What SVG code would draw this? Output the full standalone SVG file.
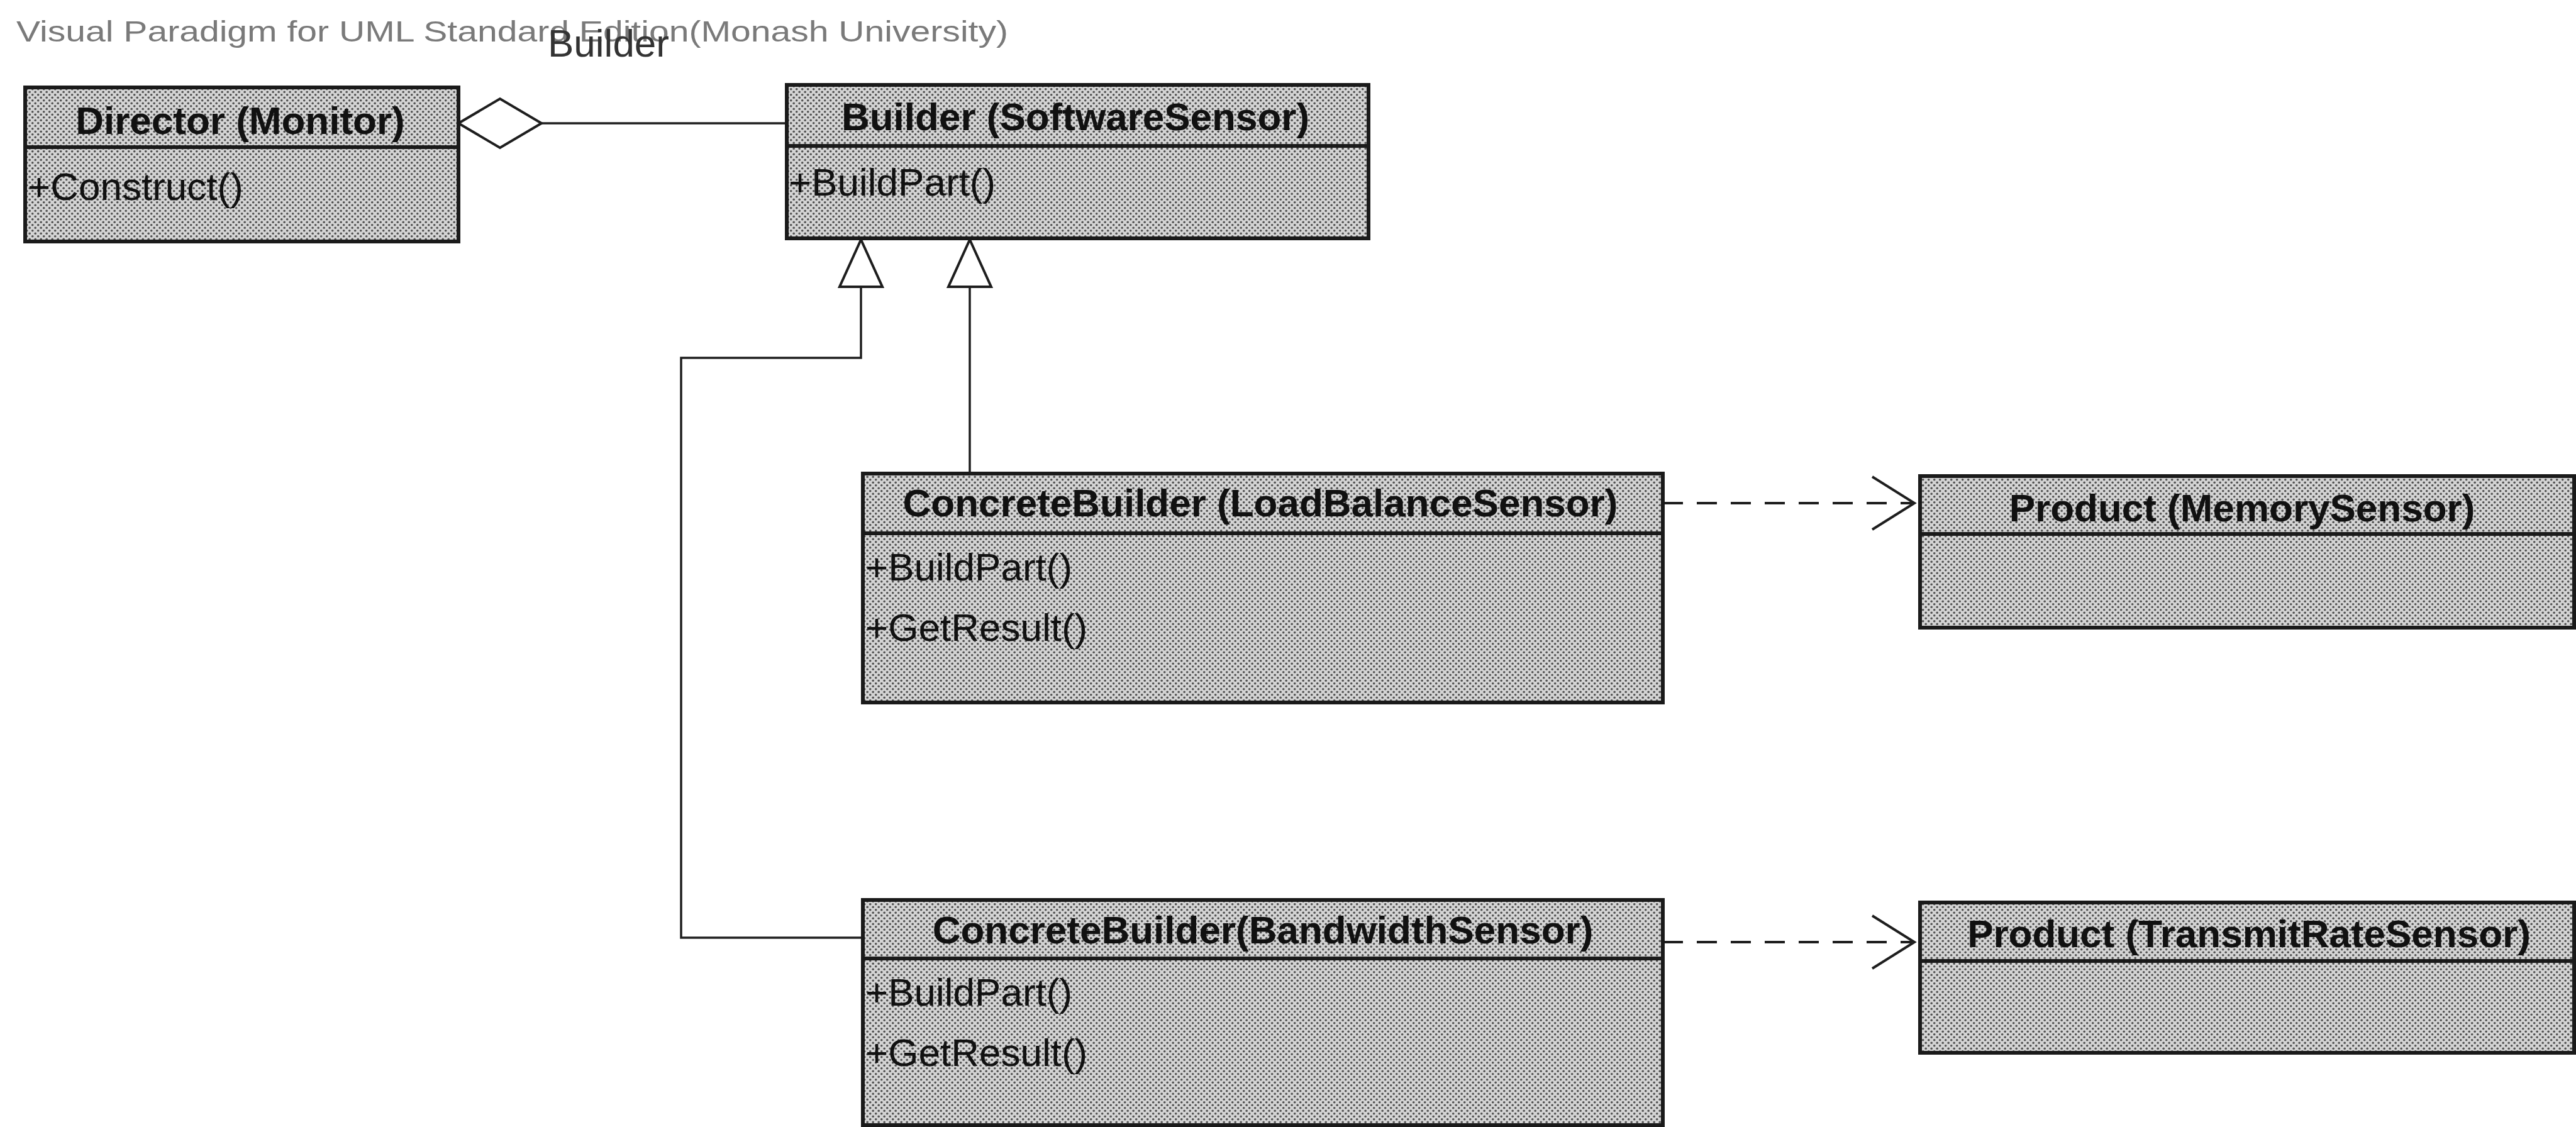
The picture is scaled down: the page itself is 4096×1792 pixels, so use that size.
<svg xmlns="http://www.w3.org/2000/svg" width="4096" height="1792" viewBox="0 0 4096 1792">
<style>
.box{fill:url(#dither);stroke:#1a1a1a;stroke-width:6}
.sep{stroke:#1a1a1a;stroke-width:6}
.hdr{font-family:"Liberation Sans",Arial,sans-serif;font-weight:bold;font-size:62px;fill:#111;text-anchor:middle}
.op{font-family:"Liberation Sans",Arial,sans-serif;font-size:62px;fill:#111}
.ln{fill:none;stroke:#1e1e1e;stroke-width:3.5}
.dash{fill:none;stroke:#1e1e1e;stroke-width:4;stroke-dasharray:32 22}
.tri{fill:#fff;stroke:#1e1e1e;stroke-width:4;stroke-linejoin:miter}
</style>
<defs>
<pattern id="dither" width="9" height="9" patternUnits="userSpaceOnUse">
<rect width="9" height="9" fill="#d4d4d4"/>
<circle cx="2.2" cy="2.2" r="1.8" fill="#505050"/>
<circle cx="6.7" cy="6.7" r="1.8" fill="#505050"/>
</pattern>
</defs>
<rect width="4096" height="1792" fill="#fff"/>
<text x="26" y="66" font-family="Liberation Sans,Arial,sans-serif" font-size="47" fill="#7a7a7a" textLength="1577" lengthAdjust="spacingAndGlyphs">Visual Paradigm for UML Standard Edition(Monash University)</text>
<text x="871" y="90" font-family="Liberation Sans,Arial,sans-serif" font-size="62" fill="#333">Builder</text>
<g id="connectors">
<path class="tri" d="M729,196 L795,157 L861,196 L795,235 Z"/>
<path class="ln" d="M861,196 L1251,196"/>
<path class="ln" d="M1369,456 L1369,569 L1083,569 L1083,1491 L1372,1491"/>
<polygon class="tri" points="1369,381 1403,456 1335,456"/>
<path class="ln" d="M1542,456 L1542,753"/>
<polygon class="tri" points="1542,381 1576,456 1508,456"/>
<path class="dash" d="M2644,800 L3040,800"/>
<path class="ln" style="stroke-width:4" d="M2977,758 L3044,800 L2977,842"/>
<path class="dash" d="M2644,1498 L3040,1498"/>
<path class="ln" style="stroke-width:4" d="M2977,1456 L3044,1498 L2977,1540"/>
</g>
<g id="director">
<rect class="box" x="40" y="139" width="689" height="245"/>
<line class="sep" x1="40" y1="234" x2="729" y2="234"/>
<text class="hdr" x="382" y="213">Director (Monitor)</text>
<text class="op" x="44" y="318">+Construct()</text>
</g>
<g id="builder">
<rect class="box" x="1251" y="135" width="925" height="244"/>
<line class="sep" x1="1251" y1="232" x2="2176" y2="232"/>
<text class="hdr" x="1710" y="207">Builder (SoftwareSensor)</text>
<text class="op" x="1254" y="311">+BuildPart()</text>
</g>
<g id="concrete-loadbalance">
<rect class="box" x="1372" y="753" width="1272" height="364"/>
<line class="sep" x1="1372" y1="848" x2="2644" y2="848"/>
<text class="hdr" x="2004" y="821">ConcreteBuilder (LoadBalanceSensor)</text>
<text class="op" x="1376" y="923">+BuildPart()</text>
<text class="op" x="1376" y="1019">+GetResult()</text>
</g>
<g id="concrete-bandwidth">
<rect class="box" x="1372" y="1431" width="1272" height="358"/>
<line class="sep" x1="1372" y1="1524" x2="2644" y2="1524"/>
<text class="hdr" x="2008" y="1500">ConcreteBuilder(BandwidthSensor)</text>
<text class="op" x="1376" y="1599">+BuildPart()</text>
<text class="op" x="1376" y="1695">+GetResult()</text>
</g>
<g id="product-memory">
<rect class="box" x="3053" y="757" width="1040" height="241"/>
<line class="sep" x1="3053" y1="849" x2="4093" y2="849"/>
<text class="hdr" x="3565" y="829">Product (MemorySensor)</text>
</g>
<g id="product-transmit">
<rect class="box" x="3053" y="1435" width="1040" height="239"/>
<line class="sep" x1="3053" y1="1528" x2="4093" y2="1528"/>
<text class="hdr" x="3576" y="1506">Product (TransmitRateSensor)</text>
</g>
</svg>
